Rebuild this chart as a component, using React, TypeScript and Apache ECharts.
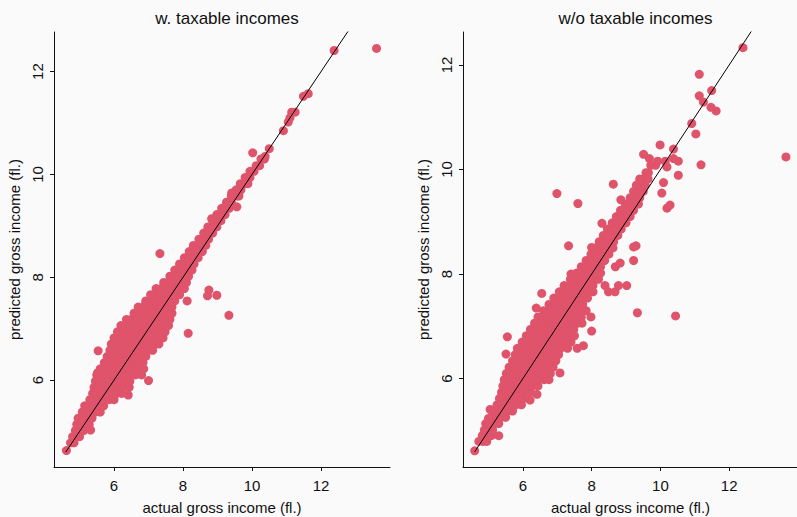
import React, { useEffect, useRef } from "react";
import * as echarts from "echarts";

// Panel titles and axis captions
const PANEL_TITLES = ["w. taxable incomes", "w/o taxable incomes"];
const X_TITLE = "actual gross income (fl.)";
const Y_TITLE = "predicted gross income (fl.)";
const TICKS = [6, 8, 10, 12];

// Log gross income: rows of [predicted, actual values...] for the dense cloud,
// plus isolated [actual, predicted] points.
const withTaxRows: [number, number[]][] = [
  [4.63, [4.62]],
  [4.78, [4.74, 4.84]],
  [4.9, [4.8, 4.9, 5.0]],
  [5.02, [4.88, 5.0, 5.12]],
  [5.14, [4.92, 5.04, 5.16, 5.28]],
  [5.26, [4.96, 5.1, 5.22, 5.36]],
  [5.38, [5.08, 5.2, 5.34, 5.46, 5.6]],
  [5.5, [5.15, 5.28, 5.42, 5.56, 5.7]],
  [5.62, [5.3, 5.44, 5.58, 5.72, 5.86, 6.0]],
  [5.74, [5.38, 5.52, 5.66, 5.8, 5.94, 6.08, 6.22]],
  [5.86, [5.42, 5.56, 5.7, 5.84, 5.98, 6.12, 6.26, 6.44]],
  [5.98, [5.46, 5.6, 5.74, 5.88, 6.02, 6.16, 6.3, 6.46]],
  [6.1, [5.5, 5.64, 5.78, 5.92, 6.06, 6.2, 6.34, 6.48, 6.62, 6.8]],
  [6.22, [5.6, 5.74, 5.88, 6.02, 6.16, 6.3, 6.44, 6.58, 6.72, 6.86]],
  [6.34, [5.72, 5.86, 6.0, 6.14, 6.28, 6.42, 6.56, 6.7, 6.84]],
  [6.46, [5.8, 5.94, 6.08, 6.22, 6.36, 6.5, 6.64, 6.78, 6.92]],
  [6.58, [5.88, 6.02, 6.16, 6.3, 6.44, 6.58, 6.72, 6.86, 7.0, 7.12]],
  [6.7, [5.92, 6.06, 6.2, 6.34, 6.48, 6.62, 6.76, 6.9, 7.04, 7.18, 7.3]],
  [6.82, [6.0, 6.14, 6.28, 6.42, 6.56, 6.7, 6.84, 6.98, 7.12, 7.26, 7.42]],
  [6.94, [6.1, 6.24, 6.38, 6.52, 6.66, 6.8, 6.94, 7.08, 7.22, 7.36, 7.48]],
  [7.06, [6.2, 6.34, 6.48, 6.62, 6.76, 6.9, 7.04, 7.18, 7.32, 7.46, 7.58]],
  [7.18, [6.36, 6.5, 6.64, 6.78, 6.92, 7.06, 7.2, 7.34, 7.48, 7.62]],
  [7.3, [6.58, 6.72, 6.86, 7.0, 7.14, 7.28, 7.42, 7.56, 7.68]],
  [7.42, [6.7, 6.84, 6.98, 7.12, 7.26, 7.4, 7.54, 7.68]],
  [7.54, [6.92, 7.06, 7.2, 7.34, 7.48, 7.62, 7.76, 8.12]],
  [7.66, [7.06, 7.2, 7.34, 7.48, 7.62, 7.76, 7.9]],
  [7.78, [7.22, 7.36, 7.5, 7.64, 7.78, 7.92, 8.04]],
  [7.9, [7.44, 7.58, 7.72, 7.86, 8.0, 8.1]],
  [8.02, [7.62, 7.76, 7.9, 8.04, 8.16]],
  [8.14, [7.76, 7.9, 8.04, 8.18, 8.26]],
  [8.26, [7.9, 8.04, 8.18, 8.32]],
  [8.38, [8.04, 8.18, 8.32, 8.44]],
  [8.5, [8.18, 8.32, 8.46, 8.56]],
  [8.62, [8.3, 8.44, 8.58, 8.66]],
  [8.74, [8.46, 8.6, 8.74]],
  [8.86, [8.6, 8.74, 8.86]],
  [8.98, [8.72, 8.86, 8.98]],
  [9.1, [8.86, 9.0, 9.1]],
  [9.22, [8.98, 9.12, 9.22]],
  [9.34, [9.12, 9.26, 9.34]],
  [9.46, [9.26, 9.4]],
  [9.58, [9.4, 9.54, 9.62]],
  [9.7, [9.54, 9.68]],
  [9.82, [9.66, 9.8, 9.88]],
  [9.94, [9.8, 9.94]],
  [10.06, [9.94, 10.06]],
  [10.17, [10.12, 10.22]],
  [10.3, [10.26, 10.36]],
  [10.5, [10.5]],
  [11.21, [11.15, 11.25]],
];
const withTaxSingles: [number, number][] = [
  [5.32, 5.03], [6.41, 5.71], [7.0, 5.99], [5.52, 6.14], [5.54, 6.57],
  [8.15, 6.91], [9.33, 7.26], [8.71, 7.64], [8.98, 7.65], [8.75, 7.75],
  [6.92, 7.48], [7.33, 8.46], [8.35, 8.56], [8.83, 9.14], [9.56, 9.37],
  [9.41, 9.64], [10.38, 10.35], [10.02, 10.42], [10.91, 10.85],
  [11.05, 11.02], [11.1, 11.1], [11.49, 11.52], [11.63, 11.57],
  [12.38, 12.41], [13.61, 12.45],
];

const withoutTaxRows: [number, number[]][] = [
  [4.62, [4.6]],
  [4.8, [4.72, 4.84, 4.95]],
  [4.91, [4.82, 4.95, 5.08]],
  [5.02, [4.88, 5.0, 5.12]],
  [5.14, [4.92, 5.05, 5.18, 5.3]],
  [5.26, [5.1, 5.22, 5.36, 5.5]],
  [5.38, [5.15, 5.28, 5.42, 5.56, 5.7]],
  [5.5, [5.25, 5.38, 5.52, 5.66, 5.8, 5.96]],
  [5.62, [5.32, 5.46, 5.6, 5.74, 5.88, 6.02]],
  [5.74, [5.38, 5.52, 5.66, 5.8, 5.94, 6.08, 6.22]],
  [5.86, [5.42, 5.56, 5.7, 5.84, 5.98, 6.12, 6.28, 6.44]],
  [5.98, [5.46, 5.6, 5.74, 5.88, 6.02, 6.16, 6.3, 6.46, 6.62, 6.76]],
  [6.1, [5.52, 5.66, 5.8, 5.94, 6.08, 6.22, 6.36, 6.5, 6.64, 6.8]],
  [6.22, [5.6, 5.74, 5.88, 6.02, 6.16, 6.3, 6.44, 6.58, 6.72, 6.88]],
  [6.34, [5.7, 5.84, 5.98, 6.12, 6.26, 6.4, 6.54, 6.68, 6.82, 6.96]],
  [6.46, [5.78, 5.92, 6.06, 6.2, 6.34, 6.48, 6.62, 6.76, 6.9, 7.04]],
  [6.58, [5.84, 5.98, 6.12, 6.26, 6.4, 6.54, 6.68, 6.82, 6.96, 7.1, 7.3, 7.58]],
  [6.7, [5.98, 6.12, 6.26, 6.4, 6.54, 6.68, 6.82, 6.96, 7.1, 7.24, 7.4]],
  [6.82, [6.1, 6.24, 6.38, 6.52, 6.66, 6.8, 6.94, 7.08, 7.22, 7.36, 7.5]],
  [6.94, [6.22, 6.36, 6.5, 6.64, 6.78, 6.92, 7.06, 7.2, 7.34, 7.48]],
  [7.06, [6.34, 6.48, 6.62, 6.76, 6.9, 7.04, 7.18, 7.32, 7.46, 7.6, 7.72]],
  [7.18, [6.44, 6.58, 6.72, 6.86, 7.0, 7.14, 7.28, 7.42, 7.56, 7.7, 7.98]],
  [7.3, [6.6, 6.74, 6.88, 7.02, 7.16, 7.3, 7.44, 7.58, 7.72, 7.84]],
  [7.42, [6.76, 6.9, 7.04, 7.18, 7.32, 7.46, 7.6, 7.74]],
  [7.54, [6.9, 7.04, 7.18, 7.32, 7.46, 7.6, 7.74, 7.88]],
  [7.66, [7.06, 7.2, 7.34, 7.48, 7.62, 7.76, 7.9, 8.04, 8.49, 8.68]],
  [7.78, [7.2, 7.34, 7.48, 7.62, 7.76, 7.9, 8.04, 8.39, 8.78, 9.02]],
  [7.9, [7.38, 7.52, 7.66, 7.8, 7.94, 8.08, 8.2]],
  [8.02, [7.56, 7.7, 7.84, 7.98, 8.12, 8.26]],
  [8.14, [7.7, 7.84, 7.98, 8.12, 8.26, 8.69]],
  [8.26, [7.84, 7.98, 8.12, 8.26, 8.38, 9.22]],
  [8.38, [7.98, 8.12, 8.26, 8.4, 8.5]],
  [8.5, [8.1, 8.24, 8.38, 8.52, 8.62]],
  [8.62, [8.22, 8.36, 8.5, 8.64]],
  [8.74, [8.34, 8.48, 8.62, 8.76]],
  [8.86, [8.46, 8.6, 8.74, 8.86]],
  [8.98, [8.6, 8.74, 8.88, 9.0]],
  [9.1, [8.72, 8.86, 9.0, 9.12]],
  [9.22, [8.84, 8.98, 9.12, 9.22]],
  [9.34, [8.98, 9.12, 9.26, 9.36]],
  [9.46, [9.12, 9.26, 9.4]],
  [9.58, [9.22, 9.36, 9.5]],
  [9.7, [9.3, 9.44, 9.56]],
  [9.82, [9.4, 9.54, 9.64]],
  [9.94, [9.58, 9.65]],
  [10.08, [9.72, 9.86]],
  [10.16, [9.92, 10.14, 10.52]],
  [10.21, [9.68, 10.38]],
];
const withoutTaxSingles: [number, number][] = [
  [5.3, 4.91], [5.0, 5.24], [5.05, 5.41], [6.21, 5.59], [6.41, 5.7],
  [7.08, 6.11], [5.51, 6.47], [7.76, 6.63], [5.55, 6.8], [8.0, 6.91],
  [9.33, 7.26], [10.44, 7.2], [6.39, 7.35], [6.55, 7.63], [7.4, 8.0],
  [8.83, 8.21], [8.0, 8.51], [9.22, 8.52], [7.33, 8.54], [9.29, 8.54],
  [8.3, 8.97], [10.19, 9.26], [10.28, 9.32], [7.6, 9.35], [8.85, 9.42],
  [6.99, 9.54], [10.04, 9.55], [8.63, 9.72], [10.09, 9.75], [9.41, 9.8],
  [10.52, 9.89], [10.19, 10.05], [11.18, 10.09], [13.65, 10.24],
  [9.51, 10.29], [10.38, 10.39], [9.99, 10.47], [11.03, 10.68],
  [10.91, 10.88], [11.62, 11.12], [11.47, 11.19], [11.25, 11.29],
  [11.13, 11.41], [11.49, 11.51], [11.13, 11.82], [12.4, 12.33],
];

// Axis limits of each panel (data range padded by 4%)
const X_LIMITS: [number, number][] = [[4.26, 14.0], [4.26, 14.0]];
const Y_LIMITS: [number, number][] = [[4.31, 12.77], [4.31, 12.63]];
// 45-degree reference line endpoints
const IDENTITY: [number, number][] = [[4.6, 4.6], [14, 14]];

const POINT_COLOR = "#DF536B";
const FONT = "'Liberation Sans', Arial, Helvetica, sans-serif";

function expand(rows: [number, number[]][], singles: [number, number][]) {
  const pts: [number, number][] = [];
  rows.forEach(([y, xs]) => xs.forEach((x) => pts.push([x, y])));
  return pts.concat(singles);
}

export default function App() {
  const ref = useRef<HTMLDivElement>(null);

  useEffect(() => {
    if (!ref.current) return;
    const chart = echarts.init(ref.current, null, { renderer: "svg" });

    const panels = [
      expand(withTaxRows, withTaxSingles),
      expand(withoutTaxRows, withoutTaxSingles),
    ];
    const grids = [
      { left: 54, top: 32, width: 336, height: 435, outerBoundsMode: "none" },
      { left: 463, top: 32, width: 335, height: 435, outerBoundsMode: "none" },
    ];

    const axisCommon = {
      type: "value" as const,
      splitLine: { show: false },
      axisLine: { show: true, onZero: false, lineStyle: { color: "#111", width: 1 } },
      axisTick: { show: true, length: 4, inside: false, customValues: TICKS, lineStyle: { color: "#111" } },
      nameLocation: "middle" as const,
      nameTextStyle: { color: "#111", fontSize: 15, fontFamily: FONT },
    };

    chart.setOption({
      animation: false,
      backgroundColor: "#fafafa",
      title: PANEL_TITLES.map((t, i) => ({
        text: t,
        left: grids[i].left + grids[i].width / 2,
        top: 5,
        textAlign: "center",
        textStyle: { color: "#111", fontSize: 17, fontWeight: "normal", fontFamily: FONT },
      })),
      grid: grids,
      xAxis: grids.map((_, i) => ({
        ...axisCommon,
        gridIndex: i,
        min: X_LIMITS[i][0],
        max: X_LIMITS[i][1],
        name: X_TITLE,
        nameGap: 33,
        axisLabel: { customValues: TICKS, margin: 11, color: "#111", fontSize: 15, fontFamily: FONT },
      })),
      yAxis: grids.map((_, i) => ({
        ...axisCommon,
        gridIndex: i,
        min: Y_LIMITS[i][0],
        max: Y_LIMITS[i][1],
        name: Y_TITLE,
        nameGap: 32,
        nameRotate: 90,
        axisLabel: { customValues: TICKS, rotate: 90, margin: 9, color: "#111", fontSize: 15, fontFamily: FONT },
      })),
      series: [
        ...panels.map((pts, i) => ({
          type: "scatter",
          xAxisIndex: i,
          yAxisIndex: i,
          data: pts,
          symbol: "circle",
          symbolSize: 9,
          itemStyle: { color: POINT_COLOR, opacity: 1 },
          emphasis: { disabled: true },
          z: 2,
        })),
        ...panels.map((_, i) => ({
          type: "line",
          xAxisIndex: i,
          yAxisIndex: i,
          data: IDENTITY,
          clip: true,
          symbol: "none",
          lineStyle: { color: "#000", width: 1 },
          z: 3,
        })),
      ],
    });

    return () => chart.dispose();
  }, []);

  return (
    <div
      ref={ref}
      style={{ position: "fixed", left: 0, top: 0, width: 797, height: 517, background: "#fafafa" }}
    />
  );
}
